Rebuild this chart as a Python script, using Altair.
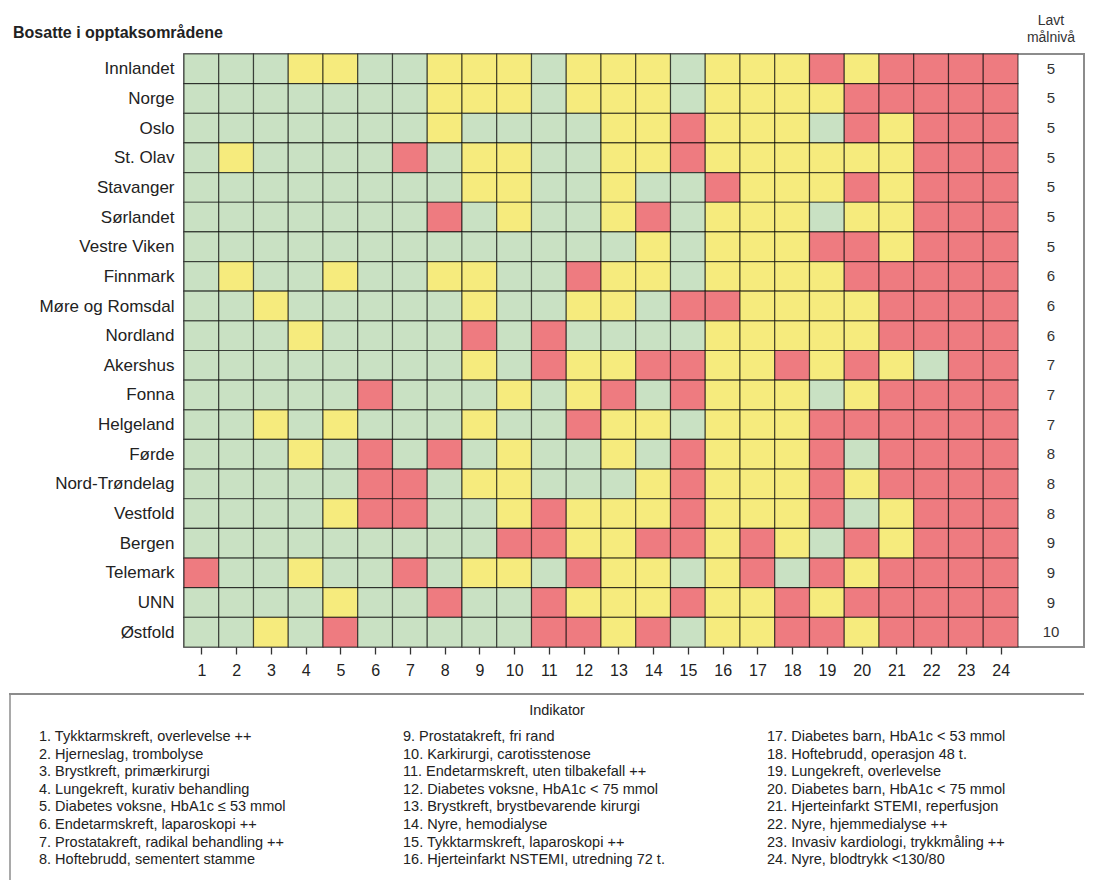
import json
import altair as alt
import pandas as pd

# ---------------- data ----------------
rows = ["Innlandet", "Norge", "Oslo", "St. Olav", "Stavanger", "Sørlandet",
        "Vestre Viken", "Finnmark", "Møre og Romsdal", "Nordland", "Akershus",
        "Fonna", "Helgeland", "Førde", "Nord-Trøndelag", "Vestfold", "Bergen",
        "Telemark", "UNN", "Østfold"]

columns = list(range(1, 25))

# G = grønn, Y = gul, R = rød, per indikator 1..24
status = [
    "GGGYYGGYYYGYYYGYYYRYRRRR",  # Innlandet
    "GGGGGGGYYYGYYYGYYYYRRRRR",  # Norge
    "GGGGGGGYGGGGYYRYYYGRYRRR",  # Oslo
    "GYGGGGRGYYGGYYRYYYYYYRRR",  # St. Olav
    "GGGGGGGGYYGGYGGRYYYRYRRR",  # Stavanger
    "GGGGGGGRGYGGYRGYYYGYYRRR",  # Sørlandet
    "GGGGGGGGGGGGGYGYYYRRYRRR",  # Vestre Viken
    "GYGGYGGYYGGRYYGYYYYRRRRR",  # Finnmark
    "GGYGGGGGYGGYYGRRYYYYRRRR",  # Møre og Romsdal
    "GGGYGGGGRGRGGGGYYYYYRRRR",  # Nordland
    "GGGGGGGGYGRYYRRYYRYRYGRR",  # Akershus
    "GGGGGRGGGYGYRGRYYYGYRRRR",  # Fonna
    "GGYGYGGGYGGRYYGYYYRRRRRR",  # Helgeland
    "GGGYGRGRGYGGYGRYYYRGRRRR",  # Førde
    "GGGGGRRGYYGGGYRYYYRYRRRR",  # Nord-Trøndelag
    "GGGGYRRGGYRYYYRYYYRGYRRR",  # Vestfold
    "GGGGGGGGGRRYYRRYRYGRYRRR",  # Bergen
    "RGGYGGRGYYGRYYGYRGRYRRRR",  # Telemark
    "GGGGYGGRGGRYYYRYYRYRRRRR",  # UNN
    "GGYGRGGGGGRRYRGYYRRYRRRR",  # Østfold
]

lavt_maalnivaa = [5, 5, 5, 5, 5, 5, 5, 6, 6, 6, 7, 7, 7, 8, 8, 8, 9, 9, 9, 10]

indikatorer = [
    "Tykktarmskreft, overlevelse ++",
    "Hjerneslag, trombolyse",
    "Brystkreft, primærkirurgi",
    "Lungekreft, kurativ behandling",
    "Diabetes voksne, HbA1c ≤ 53 mmol",
    "Endetarmskreft, laparoskopi ++",
    "Prostatakreft, radikal behandling ++",
    "Hoftebrudd, sementert stamme",
    "Prostatakreft, fri rand",
    "Karkirurgi, carotisstenose",
    "Endetarmskreft, uten tilbakefall ++",
    "Diabetes voksne, HbA1c < 75 mmol",
    "Brystkreft, brystbevarende kirurgi",
    "Nyre, hemodialyse",
    "Tykktarmskreft, laparoskopi ++",
    "Hjerteinfarkt NSTEMI, utredning 72 t.",
    "Diabetes barn, HbA1c < 53 mmol",
    "Hoftebrudd, operasjon 48 t.",
    "Lungekreft, overlevelse",
    "Diabetes barn, HbA1c < 75 mmol",
    "Hjerteinfarkt STEMI, reperfusjon",
    "Nyre, hjemmedialyse ++",
    "Invasiv kardiologi, trykkmåling ++",
    "Nyre, blodtrykk <130/80",
]

# ---------------- layout / style ----------------
FONT = "Liberation Sans"
GREEN, YELLOW, RED = "#c9e1c3", "#f6eb7d", "#ee7b80"
COL_PX = 34.75
LAVT_PX = 66
N_COL = len(columns)
N_ROW = len(rows)
XMAX = N_COL + LAVT_PX / COL_PX
PLOT_W = XMAX * COL_PX
PLOT_H = 593
LAVT_CENTER = (N_COL + XMAX) / 2
AXIS_EXT = 175

cells = pd.DataFrame(
    [{"r": i, "c": c, "s": status[i][j]} for i in range(N_ROW) for j, c in enumerate(columns)]
)
cells["x0"] = cells["c"] - 1
cells["x1"] = cells["c"]
cells["y0"] = cells["r"]
cells["y1"] = cells["r"] + 1

lavt_df = pd.DataFrame({"ymid": [i + 0.5 for i in range(N_ROW)], "v": lavt_maalnivaa})

xscale = alt.Scale(domain=[0, XMAX], nice=False, zero=False)
yscale = alt.Scale(domain=[0, N_ROW], nice=False, zero=False, reverse=True)

row_expr = json.dumps(rows, ensure_ascii=False) + "[floor(datum.value)]"

heat = alt.Chart(cells).mark_rect(
    stroke="black", strokeOpacity=0.6, strokeWidth=1.2
).encode(
    x=alt.X("x0:Q", scale=xscale,
            axis=alt.Axis(values=[c - 0.5 for c in columns], tickCount=100,
                          labelExpr="format(datum.value + 0.5, 'd')",
                          title=None, grid=False, domain=False,
                          tickSize=7, tickColor="#333", tickWidth=1.3,
                          labelFontSize=16, labelColor="#222", labelPadding=8,
                          labelFont=FONT, labelOverlap=False)),
    x2="x1:Q",
    y=alt.Y("y0:Q", scale=yscale,
            axis=alt.Axis(values=[r + 0.5 for r in range(N_ROW)], tickCount=100,
                          labelExpr=row_expr, title=None, grid=False,
                          domain=False, ticks=False, labelFontSize=17,
                          labelColor="#222", labelPadding=10, labelFont=FONT,
                          labelOverlap=False,
                          minExtent=AXIS_EXT, maxExtent=AXIS_EXT)),
    y2="y1:Q",
    color=alt.Color("s:N", scale=alt.Scale(domain=["G", "Y", "R"],
                                           range=[GREEN, YELLOW, RED]),
                    legend=None),
)

lavt_text = alt.Chart(lavt_df).mark_text(
    fontSize=15, color="#333", font=FONT
).encode(
    x=alt.datum(LAVT_CENTER, scale=xscale),
    y=alt.Y("ymid:Q", scale=yscale),
    text="v:Q",
)

one = pd.DataFrame({"a": [0]})

header1 = alt.Chart(one).mark_text(
    baseline="middle", fontSize=14, color="#333", font=FONT, text="Lavt"
).encode(x=alt.datum(LAVT_CENTER, scale=xscale), y=alt.value(-33))

header2 = alt.Chart(one).mark_text(
    baseline="middle", fontSize=14, color="#333", font=FONT, text="målnivå"
).encode(x=alt.datum(LAVT_CENTER, scale=xscale), y=alt.value(-16))

title_mark = alt.Chart(one).mark_text(
    align="left", baseline="middle", fontSize=16, fontWeight="bold",
    color="#222", font=FONT, text="Bosatte i opptaksområdene"
).encode(x=alt.value(-AXIS_EXT + 4), y=alt.value(-21))

top = alt.layer(heat, lavt_text, header1, header2, title_mark).properties(
    width=PLOT_W, height=PLOT_H,
    view=alt.ViewBackground(stroke="#8c8c8c", strokeWidth=2),
)

# ---------------- indicator legend ----------------
# legend panel shares the left edge of the heat map plot; its frame reaches back
# over the label column (AXIS_EXT px)
LW = PLOT_W          # panel width right of the shared origin
LH = 186
COL_STEP = 364       # px between the three text columns
COL_OFF = 30 - AXIS_EXT   # first column's left edge relative to origin
ROW_STEP, ROW_OFF = 17.6, 43

leg_df = pd.DataFrame({
    "text": [f"{i}. {t}" for i, t in enumerate(indikatorer, 1)],
    "col": [i // 8 for i in range(len(indikatorer))],
    "row": [i % 8 for i in range(len(indikatorer))],
})

lx = alt.Scale(domain=[-COL_OFF / COL_STEP, (LW - COL_OFF) / COL_STEP], nice=False, zero=False)
ly = alt.Scale(domain=[-ROW_OFF / ROW_STEP, (LH - ROW_OFF) / ROW_STEP], nice=False,
               zero=False, reverse=True)

leg_text = alt.Chart(leg_df).mark_text(
    align="left", baseline="middle", fontSize=14.5, color="#222", font=FONT
).encode(
    x=alt.X("col:Q", scale=lx, axis=None),
    y=alt.Y("row:Q", scale=ly, axis=None),
    text="text:N",
)

leg_title = alt.Chart(one).mark_text(
    align="center", baseline="middle", fontSize=14.5, color="#222", font=FONT,
    text="Indikator"
).encode(x=alt.value(548 - AXIS_EXT), y=alt.value(17))

border_top = alt.Chart(one).mark_rule(
    color="#8c8c8c", strokeWidth=2
).encode(x=alt.value(-AXIS_EXT), x2=alt.value(LW), y=alt.value(0))

border_left = alt.Chart(one).mark_rule(
    color="#8c8c8c", strokeWidth=1.5
).encode(x=alt.value(-AXIS_EXT + 1), y=alt.value(0), y2=alt.value(LH))

legend_box = alt.layer(border_top, border_left, leg_title, leg_text).properties(
    width=LW, height=LH, view=alt.ViewBackground(stroke=None)
)

chart = alt.vconcat(top, legend_box, spacing=14).properties(
    padding={"left": 0, "top": 5, "right": 0, "bottom": 0},
    background="white",
).configure(font=FONT).configure_view(stroke=None)

chart.save("out.html", embed_options={"renderer": "svg", "actions": False})
